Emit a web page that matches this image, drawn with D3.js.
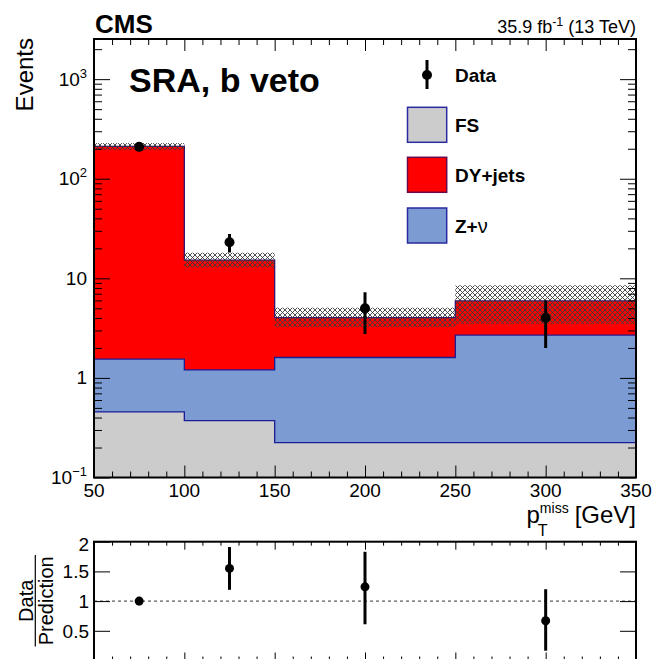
<!DOCTYPE html>
<html><head><meta charset="utf-8">
<script src="https://cdn.jsdelivr.net/npm/d3@7"></script>
<style>body{margin:0;background:#fff} text{font-family:"Liberation Sans",Arial,Helvetica,sans-serif;fill:#000}</style>
</head><body><svg id="c" width="654" height="659"></svg>
<script>
// ---- data ----
const binEdges=[50,100,150,250,350];
const binCenters=[75,125,200,300];
const fsVals=[0.456,0.373,0.224,0.224];
const znuVals=[1.09,0.83,1.38,2.46];
const dyVals=[209.45,14.0,2.43,3.24];
const uncLo=[195,12.8,3.23,3.48];
const uncHi=[228,18.1,5.08,8.5];
const dataVals=[209,23,5,4];
const dataLo=[194.5,18.2,2.76,2.0];
const dataHi=[223.5,27.8,7.24,6.0];
const ratioVals=[1.0,1.55,1.24,0.67];
const ratioLo=[0.93,1.19,0.61,0.165];
const ratioHi=[1.07,1.91,1.83,1.20];
const xTickLabels=[50,100,150,200,250,300,350];
const yTickLabels=[{v:0.1,b:"10",e:"\u22121"},{v:1,b:"1"},{v:10,b:"10"},{v:100,b:"10",e:"2"},{v:1000,b:"10",e:"3"}];
const ratioTickLabels=[0.5,1,1.5,2];
const legendItems=[{name:"FS",color:"#cccccc",stroke:"#2a2aa0"},{name:"DY+jets",color:"#ff0000",stroke:"#6a0a4a"},{name:"Z+",greek:"\u03bd",color:"#7b9bd2",stroke:"#2a2aa0"}];

// ---- layout ----
const L=94,R=636,T=39,B=477.5,rT=541.7,rB=660.5;
const svg=d3.select("#c");
const x=d3.scaleLinear([50,350],[L,R]);
const y=d3.scaleLog([0.1,2530],[B,T]);
const yr=d3.scaleLinear([0,2],[rB,rT]);
const navy="#1c1c96";

const defs=svg.append("defs");
const pat=defs.append("pattern").attr("id","hatch").attr("patternUnits","userSpaceOnUse").attr("width",5).attr("height",5);
pat.append("path").attr("d","M0,0L5,5M5,0L0,5M-1,4L1,6M4,-1L6,1M4,6L6,4M-1,1L1,-1").attr("stroke","#3a3a3a").attr("stroke-width",0.9);

const clip=defs.append("clipPath").attr("id","mainclip");
clip.append("rect").attr("x",L).attr("y",T).attr("width",R-L).attr("height",B-T);

// stacked layers
const c0=fsVals.map(v=>v);
const c1=fsVals.map((v,i)=>v+znuVals[i]);
const c2=c1.map((v,i)=>v+dyVals[i]);
function stepPts(lo,hi){
  const pts=lo.map((l,i)=>({x:binEdges[i],lo:l,hi:hi[i]}));
  pts.push({x:binEdges[binEdges.length-1],lo:lo[lo.length-1],hi:hi[hi.length-1]});
  return pts;
}
const base=fsVals.map(()=>0.1);
const area=d3.area().x(d=>x(d.x)).y0(d=>y(d.lo)).y1(d=>y(d.hi)).curve(d3.curveStepAfter);
const line=d3.line().x(d=>x(d.x)).y(d=>y(d.hi)).curve(d3.curveStepAfter);
const gMain=svg.append("g").attr("clip-path","url(#mainclip)");
const layers=[{lo:base,hi:c0,color:"#cccccc"},{lo:c0,hi:c1,color:"#7b9bd2"},{lo:c1,hi:c2,color:"#ff0000"}];
layers.forEach(l=>gMain.append("path").attr("d",area(stepPts(l.lo,l.hi))).attr("fill",l.color));
layers.forEach((l,i)=>gMain.append("path").attr("d",line(stepPts(l.lo,l.hi))).attr("fill","none").attr("stroke",i==2?"#3a1070":navy).attr("stroke-width",1.3));

// uncertainty band
gMain.selectAll("rect.unc").data(uncLo).join("rect").attr("class","unc")
  .attr("x",(d,i)=>x(binEdges[i])).attr("width",(d,i)=>x(binEdges[i+1])-x(binEdges[i]))
  .attr("y",(d,i)=>y(uncHi[i])).attr("height",(d,i)=>y(uncLo[i])-y(uncHi[i]))
  .attr("fill","url(#hatch)");

// data
gMain.selectAll("line.err").data(dataVals).join("line").attr("class","err")
  .attr("x1",(d,i)=>x(binCenters[i])).attr("x2",(d,i)=>x(binCenters[i]))
  .attr("y1",(d,i)=>y(dataLo[i])).attr("y2",(d,i)=>y(dataHi[i]))
  .attr("stroke","#000").attr("stroke-width",3);
gMain.selectAll("circle.pt").data(dataVals).join("circle").attr("class","pt")
  .attr("cx",(d,i)=>x(binCenters[i])).attr("cy",d=>y(d)).attr("r",5).attr("fill","#000");

// frame
svg.append("rect").attr("x",L).attr("y",T).attr("width",R-L).attr("height",B-T).attr("fill","none").attr("stroke","#000").attr("stroke-width",2);

// ticks
const xMinor=d3.range(50,351,10).filter(v=>v%50!==0);
const xMajor=d3.range(50,351,50);
const yMajor=[0.1,1,10,100,1000];
const yMinor=[];
[-1,0,1,2,3].forEach(d=>{for(let k=2;k<=9;k++){const v=k*Math.pow(10,d);if(v<2530)yMinor.push(v);}});
function tickAxis(axisFn,scale,vals,size,tx,ty){
  const g=svg.append("g").attr("transform",`translate(${tx},${ty})`)
    .call(axisFn(scale).tickValues(vals).tickSize(size).tickFormat(""));
  g.select(".domain").remove();
  g.selectAll("line").attr("stroke","#000").attr("stroke-width",1);
  g.selectAll("text").remove();
}
tickAxis(d3.axisBottom,x,xMajor,-12,0,B);
tickAxis(d3.axisBottom,x,xMinor,-6,0,B);
tickAxis(d3.axisTop,x,xMajor,-12,0,T);
tickAxis(d3.axisTop,x,xMinor,-6,0,T);
tickAxis(d3.axisLeft,y,yMajor,-16,L,0);
tickAxis(d3.axisLeft,y,yMinor,-8,L,0);
tickAxis(d3.axisRight,y,yMajor,-16,R,0);
tickAxis(d3.axisRight,y,yMinor,-8,R,0);

// tick labels main
svg.selectAll("text.xl").data(xTickLabels).join("text").attr("class","xl")
  .attr("x",d=>x(d)).attr("y",496.5).attr("text-anchor","middle").attr("font-size",19).text(d=>d);
yTickLabels.forEach(t=>{
  const tx=svg.append("text").attr("x",87).attr("y",y(t.v)+6.5).attr("text-anchor","end").attr("font-size",19);
  tx.append("tspan").text(t.b);
  if(t.e) tx.append("tspan").attr("font-size",13).attr("dy",-8).text(t.e);
});

// axis titles
svg.append("text").attr("transform","translate(33,38) rotate(-90)").attr("text-anchor","end").attr("font-size",24).text("Events");
const gev=svg.append("text").attr("x",636).attr("y",522.5).attr("text-anchor","end").attr("font-size",24).text("[GeV]");
const gw=gev.node().getComputedTextLength();
const miss=svg.append("text").attr("x",636-gw-6).attr("y",513).attr("text-anchor","end").attr("font-size",14).text("miss");
const mw=miss.node().getComputedTextLength();
const sx=636-gw-6-mw;
svg.append("text").attr("x",sx-2).attr("y",535.5).attr("font-size",16).text("T");
svg.append("text").attr("x",sx).attr("y",522.5).attr("text-anchor","end").attr("font-size",24).text("p");

// header
svg.append("text").attr("x",95).attr("y",33).attr("font-size",26).attr("font-weight","bold").text("CMS");
const lumi=svg.append("text").attr("x",636).attr("y",33).attr("text-anchor","end").attr("font-size",18);
lumi.append("tspan").text("35.9 fb");
lumi.append("tspan").attr("font-size",12.5).attr("dy",-7).text("-1");
lumi.append("tspan").attr("dy",7).text(" (13 TeV)");
svg.append("text").attr("x",129).attr("y",91.7).attr("font-size",34).attr("font-weight","bold").text("SRA, b veto");

// legend
svg.append("line").attr("x1",427).attr("x2",427).attr("y1",60).attr("y2",89).attr("stroke","#000").attr("stroke-width",3);
svg.append("circle").attr("cx",427).attr("cy",75).attr("r",5).attr("fill","#000");
svg.append("text").attr("x",455).attr("y",81.5).attr("font-size",19).attr("font-weight","bold").text("Data");
const boxY=[107.3,157.3,208];
legendItems.forEach((it,i)=>{
  svg.append("rect").attr("x",407.5).attr("y",boxY[i]).attr("width",39.2).attr("height",35).attr("fill",it.color).attr("stroke",it.stroke).attr("stroke-width",1.5);
  const t=svg.append("text").attr("x",455).attr("y",boxY[i]+24.5).attr("font-size",19).attr("font-weight","bold");
  t.append("tspan").text(it.name);
  if(it.greek) t.append("tspan").attr("font-weight","normal").attr("font-size",20).text(it.greek);
});

// ---- ratio panel ----
const gR=svg.append("g");
gR.append("line").attr("x1",L).attr("x2",R).attr("y1",yr(1)).attr("y2",yr(1)).attr("stroke","#333").attr("stroke-width",1).attr("stroke-dasharray","3,3");
gR.selectAll("line.rerr").data(ratioVals).join("line").attr("class","rerr")
  .attr("x1",(d,i)=>x(binCenters[i])).attr("x2",(d,i)=>x(binCenters[i]))
  .attr("y1",(d,i)=>yr(ratioLo[i])).attr("y2",(d,i)=>yr(ratioHi[i]))
  .attr("stroke","#000").attr("stroke-width",3);
gR.selectAll("circle.rpt").data(ratioVals).join("circle").attr("class","rpt")
  .attr("cx",(d,i)=>x(binCenters[i])).attr("cy",d=>yr(d)).attr("r",4.5).attr("fill","#000");
svg.append("rect").attr("x",L).attr("y",rT).attr("width",R-L).attr("height",rB-rT).attr("fill","none").attr("stroke","#000").attr("stroke-width",2);
tickAxis(d3.axisTop,x,xMajor,-8,0,rT);
tickAxis(d3.axisTop,x,xMinor,-4,0,rT);
tickAxis(d3.axisBottom,x,xMajor,-8,0,rB);
tickAxis(d3.axisBottom,x,xMinor,-4,0,rB);
tickAxis(d3.axisLeft,yr,ratioTickLabels,-16,L,0);
tickAxis(d3.axisRight,yr,ratioTickLabels,-16,R,0);
svg.selectAll("text.rl").data(ratioTickLabels).join("text").attr("class","rl")
  .attr("x",89).attr("y",d=>yr(d)+6.8+(d===2?2.5:0)).attr("text-anchor","end").attr("font-size",19).text(d=>d);
const rt=svg.append("g").attr("transform","translate(35.3,600.8) rotate(-90)");
rt.append("text").attr("x",0).attr("y",-2.5).attr("text-anchor","middle").attr("font-size",20).text("Data");
rt.append("line").attr("x1",-45.8).attr("x2",45.8).attr("y1",0).attr("y2",0).attr("stroke","#000").attr("stroke-width",1.2);
rt.append("text").attr("x",0).attr("y",17.5).attr("text-anchor","middle").attr("font-size",20).text("Prediction");
</script></body></html>
